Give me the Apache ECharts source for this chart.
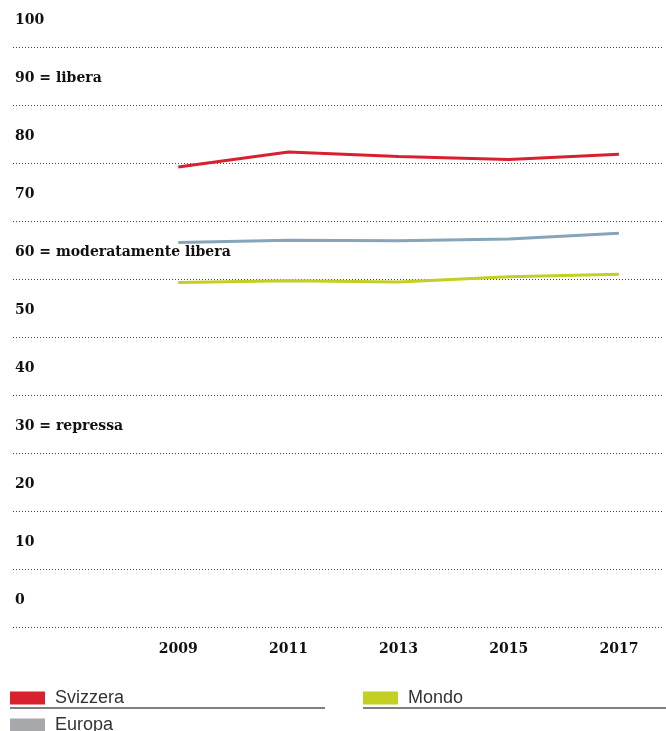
<!DOCTYPE html>
<html>
<head>
<meta charset="utf-8">
<script src="https://cdn.jsdelivr.net/npm/echarts@6/dist/echarts.min.js"></script>
<style>
html,body{margin:0;padding:0;background:#fff;}
#chart{width:666px;height:731px;}
</style>
</head>
<body>
<div id="chart"></div>
<script>
const years = [2009, 2011, 2013, 2015, 2017];
const svizzera = [79.3, 81.9, 81.1, 80.6, 81.5];
const europa = [66.3, 66.7, 66.6, 66.9, 67.9];
const mondo = [59.4, 59.7, 59.5, 60.4, 60.8];
const yTickLabels = {
  0: '0', 10: '10', 20: '20', 30: '30 = repressa', 40: '40', 50: '50',
  60: '60 = moderatamente libera', 70: '70', 80: '80', 90: '90 = libera', 100: '100'
};
const seriesNames = ['Svizzera', 'Europa', 'Mondo'];
const lineColors = ['#d9202f', '#86a5b9', '#c3cf22'];
const legendColors = ['#d9202f', '#a7a8ab', '#c3cf22'];

const chart = echarts.init(document.getElementById('chart'));
const serif = 'DejaVu Serif';
const toPairs = arr => years.map((y, i) => [y, arr[i]]);
const allData = [svizzera, europa, mondo];
const legendPos = [[10, 689], [10, 716], [363, 689]];

chart.setOption({
  animation: false,
  backgroundColor: '#fff',
  grid: { left: 13, right: 1, top: 47, bottom: 104 },
  xAxis: {
    type: 'value', min: 2006, max: 2017.8, interval: 1,
    axisLine: { show: false }, axisTick: { show: false }, splitLine: { show: false },
    axisLabel: {
      margin: 15, fontFamily: serif, fontWeight: 'bold', fontSize: 14, color: '#111',
      showMinLabel: true, showMaxLabel: true,
      formatter: v => years.includes(Math.round(v * 100) / 100) ? String(Math.round(v)) : ''
    }
  },
  yAxis: {
    type: 'value', min: 0, max: 100, interval: 10,
    axisLine: { show: false }, axisTick: { show: false },
    splitLine: { show: true, lineStyle: { color: '#444', type: [1, 2], width: 1 } },
    axisLabel: {
      inside: true, margin: 2, align: 'left', verticalAlign: 'bottom',
      padding: [0, 0, 20, 0], lineHeight: 14,
      fontFamily: serif, fontWeight: 'bold', fontSize: 14, color: '#111',
      formatter: v => yTickLabels[Math.round(v)] !== undefined ? yTickLabels[Math.round(v)] : ''
    }
  },
  legend: seriesNames.map((name, i) => ({
    left: legendPos[i][0], top: legendPos[i][1], padding: 0,
    itemWidth: 35, itemHeight: 13, icon: 'rect', selectedMode: false,
    textStyle: { fontFamily: 'Liberation Sans', fontSize: 18, lineHeight: 13, color: '#333', padding: [0, 0, 0, 5] },
    data: [{ name, itemStyle: { color: legendColors[i], borderWidth: 0 } }]
  })),
  graphic: [
    { type: 'line', shape: { x1: 10, y1: 708, x2: 325, y2: 708 }, style: { stroke: '#555', lineWidth: 1.5 } },
    { type: 'line', shape: { x1: 363, y1: 708, x2: 666, y2: 708 }, style: { stroke: '#555', lineWidth: 1.5 } }
  ],
  series: seriesNames.map((name, i) => ({
    name, type: 'line', data: toPairs(allData[i]),
    showSymbol: false, symbol: 'none',
    color: legendColors[i],
    lineStyle: { color: lineColors[i], width: 3 },
    z: 2
  }))
});
</script>
</body>
</html>
